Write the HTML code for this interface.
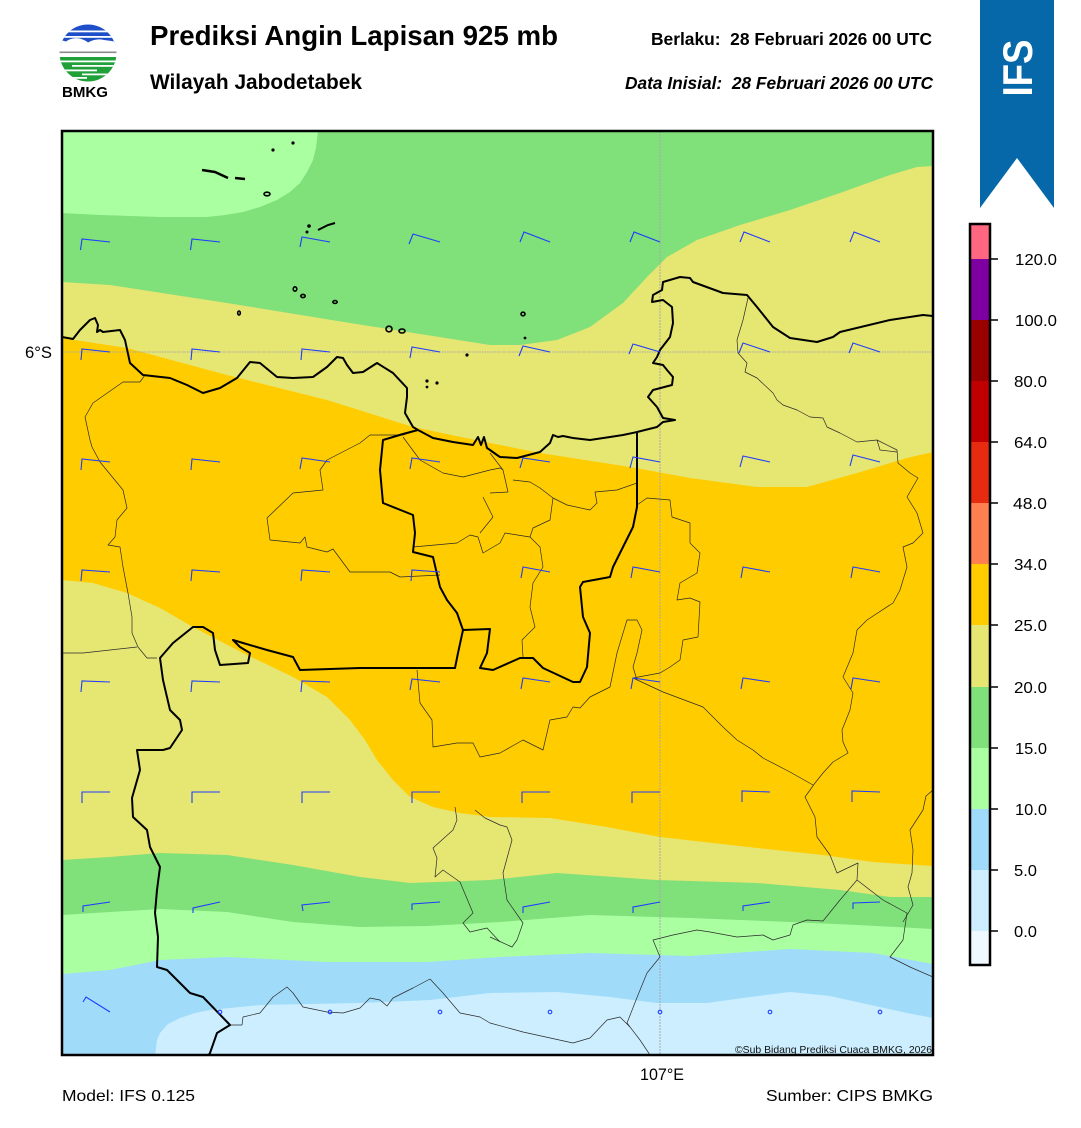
<!DOCTYPE html>
<html><head><meta charset="utf-8"><style>
html,body{margin:0;padding:0;background:#fff;}
svg{display:block;}
text{font-family:"Liberation Sans",Arial,sans-serif;}
</style></head><body>
<svg xmlns="http://www.w3.org/2000/svg" width="1081" height="1128" viewBox="0 0 1081 1128">
<defs>
<clipPath id="mapclip"><rect x="62" y="131" width="871" height="924"/></clipPath>
<clipPath id="logoclip"><circle cx="88" cy="53" r="28.5"/></clipPath>
</defs>
<rect width="1081" height="1128" fill="#fff"/>

<!-- Logo -->
<g clip-path="url(#logoclip)">
<rect x="55" y="22" width="70" height="24" fill="#1f4fc8"/>
<rect x="55" y="30.5" width="70" height="1.8" fill="#fff"/>
<rect x="55" y="36" width="70" height="1.8" fill="#fff"/>
<path d="M55,46 L55,41.5 Q61,39.5 66,41.5 Q72,37 80,38.5 Q85,40 88,42.5 Q96,38 104,40 Q112,41 125,43 L125,46 Z" fill="#fff"/>
<rect x="55" y="51.5" width="70" height="1.6" fill="#8a8a8a"/>
<rect x="55" y="57" width="70" height="26" fill="#1fa038"/>
<rect x="55" y="60.5" width="70" height="1.8" fill="#fff"/>
<rect x="72" y="65" width="55" height="1.8" fill="#fff"/>
<rect x="55" y="69.5" width="42" height="1.8" fill="#fff"/>
<rect x="82" y="73.5" width="45" height="1.8" fill="#fff"/>
<rect x="55" y="77" width="32" height="1.8" fill="#fff"/>
</g>
<text x="62" y="97" font-size="15" font-weight="bold" textLength="46" lengthAdjust="spacingAndGlyphs">BMKG</text>

<!-- Titles -->
<text x="150" y="45" font-size="27.8" font-weight="bold" textLength="408" lengthAdjust="spacingAndGlyphs">Prediksi Angin Lapisan 925 mb</text>
<text x="150" y="89" font-size="20.8" font-weight="bold" textLength="212" lengthAdjust="spacingAndGlyphs">Wilayah Jabodetabek</text>
<text x="651" y="45" font-size="17.4" font-weight="bold" textLength="281" lengthAdjust="spacingAndGlyphs" xml:space="preserve">Berlaku:  28 Februari 2026 00 UTC</text>
<text x="625" y="89" font-size="17.4" font-weight="bold" font-style="italic" textLength="308" lengthAdjust="spacingAndGlyphs" xml:space="preserve">Data Inisial:  28 Februari 2026 00 UTC</text>

<!-- IFS banner -->
<polygon points="980,0 1054,0 1054,208 1017,158 980,208" fill="#0668a8"/>
<text transform="translate(1032,68) rotate(-90)" text-anchor="middle" font-size="42" font-weight="bold" fill="#fff" textLength="57" lengthAdjust="spacingAndGlyphs">IFS</text>

<!-- MAP -->
<g clip-path="url(#mapclip)">
<rect x="62" y="131" width="871" height="924" fill="#e6e673"/>
<path d="M62,131 L933,131 L933,166 L917,167 L890,175 L840,193 L790,210 L740,225 L697,240 L667,257 L647,277 L623,303 L590,327 L557,340 L520,345 L490,345 L350,323 L227,303 L110,285 L62,282 Z" fill="#80e07a"/>
<path d="M62,131 L318,131 L316,148 L313,160 L307,172 L300,183 L290,192 L277,200 L260,207 L243,212 L225,215 L207,217 L160,217 L100,215 L62,213 Z" fill="#aaffa0"/>
<path d="M62,338 L127,348 L227,375 L327,400 L413,427 L490,443 L540,453 L630,467 L690,478 L757,487 L807,487 L857,473 L907,458 L933,452 L933,866 L873,862 L823,855 L757,848 L660,837 L607,827 L550,818 L490,817 L460,813 L433,807 L410,797 L393,780 L377,760 L365,740 L350,720 L327,697 L293,677 L243,653 L193,627 L160,608 L127,593 L93,583 L62,580 Z" fill="#ffcc00"/>
<path d="M62,860 L110,857 L160,853 L227,855 L293,865 L360,877 L410,883 L490,880 L557,873 L657,880 L757,883 L840,890 L890,897 L933,897 L933,1056 L62,1056 Z" fill="#80e07a"/>
<path d="M62,915 L110,912 L160,909 L227,912 L293,922 L360,927 L427,926 L500,922 L590,915 L690,918 L790,922 L857,925 L933,929 L933,1056 L62,1056 Z" fill="#aaffa0"/>
<path d="M62,974 L110,970 L160,960 L227,957 L327,962 L427,962 L500,957 L590,953 L690,956 L790,949 L873,953 L933,964 L933,1056 L62,1056 Z" fill="#a0dcfa"/>
<path d="M155,1056 L157,1040 L160,1033 L168,1024 L180,1018 L195,1013 L210,1010 L260,1005 L360,1003 L430,1000 L490,993 L557,992 L610,997 L657,1003 L707,1003 L750,997 L790,992 L830,996 L857,1002 L907,1013 L933,1018 L933,1056 Z" fill="#cceeff"/>

<line x1="62" y1="352" x2="933" y2="352" stroke="#a8a8a8" stroke-width="1" stroke-dasharray="1.5 1"/>
<line x1="660" y1="131" x2="660" y2="1055" stroke="#a8a8a8" stroke-width="1" stroke-dasharray="2 1"/>

<g fill="none" stroke="#2a2a2a" stroke-width="0.7" stroke-linejoin="round">
<path d="M145,375 L140,382 L123,382 L93,403 L85,417 L90,440 L92,447 L100,462 L123,490 L127,508 L117,520 L115,537 L108,545 L120,547 L123,567 L128,593 L132,617 L132,633 L138,647 L147,658 L157,658"/>
<path d="M62,653 L83,653 L110,650 L137,647"/>
<path d="M418,430 L403,435 L370,435 L360,443 L327,460 L320,470 L323,490 L293,493 L267,518 L270,540 L300,543 L305,537 L307,547 L327,552 L333,549 L350,572 L390,572 L400,577 L440,575"/>
<path d="M413,547 L457,543 L470,535 L478,537 L483,553 L500,543 L505,533 L530,537"/>
<path d="M403,437 L420,460 L443,473 L463,477 L490,470 L500,468 L503,470"/>
<path d="M490,453 L503,470 L508,492 L490,493"/>
<path d="M483,497 L493,517 L480,533"/>
<path d="M513,480 L530,482 L540,488 L553,498 L550,520 L533,528 L530,537 L540,547 L543,567 L533,583 L530,607 L535,627 L522,640 L523,657"/>
<path d="M553,498 L567,505 L590,510 L597,503 L595,492 L617,490 L637,483"/>
<path d="M637,505 L647,498 L670,500 L672,517 L690,523 L690,543 L700,553 L697,573 L680,583 L677,600 L690,598 L700,602 L698,637 L683,640 L680,660 L670,667 L660,673 L633,678"/>
<path d="M633,678 L663,692 L703,707 L723,727 L737,740 L753,750 L763,758 L790,772 L813,785"/>
<path d="M748,298 L743,320 L737,340 L738,353 L747,363 L745,372 L757,378 L773,393 L777,400 L783,405 L797,410 L810,417 L823,418 L827,427 L840,433 L857,442 L877,440 L880,450 L897,452"/>
<path d="M877,440 L897,450 L898,463 L910,473 L918,478 L907,497 L917,513 L923,533 L913,543 L903,547 L907,567 L900,590 L893,603 L867,620 L857,630 L853,653 L843,677 L853,693 L850,710 L842,730 L843,742 L848,753 L833,762 L823,773 L815,783 L805,797 L815,817 L817,837 L830,855 L837,873 L858,863 L857,880 L840,900 L823,921 L807,920 L793,925 L790,935 L773,940 L763,935 L737,937 L710,932 L697,930 L673,935 L653,940 L660,957 L647,973 L638,995 L627,1023 L640,1040 L650,1055"/>
<path d="M857,880 L883,900 L907,913 L903,940 L890,957 L910,967 L933,977"/>
<path d="M933,790 L926,796 L923,810 L910,830 L913,850 L912,873 L908,887 L913,905 L903,922"/>
<path d="M230,1025 L242,1025 L243,1017 L260,1013 L273,997 L287,987 L293,993 L303,1007 L327,1012 L343,1013 L360,1008 L370,998 L380,1000 L387,1006 L393,998 L413,988 L430,979 L443,993 L460,1013 L480,1017 L490,1023 L523,1032 L573,1043 L590,1038 L607,1020 L620,1017 L630,1027"/>
<path d="M417,670 L420,703 L432,720 L433,747 L457,743 L473,743 L480,757 L500,753 L523,740 L543,750 L550,720 L567,717 L573,707 L580,708 L590,697 L610,687 L617,653 L627,620 L637,620 L642,630 L637,653 L633,667 L637,680"/>
<path d="M475,810 L485,818 L500,825 L507,827 L512,840 L503,873 L507,900 L523,923 L517,940 L512,947 L490,937"/>
<path d="M455,807 L457,820 L453,830 L433,848 L437,858 L435,877 L443,870 L460,882 L473,913 L463,923 L470,932 L487,928 L500,942"/>
</g>

<g fill="none" stroke="#000" stroke-width="2" stroke-linejoin="round">
<path d="M62,337 L73,339 L80,330 L90,320 L95,318 L98,325 L97,332 L100,330 L103,332 L120,330 L125,340 L130,363 L143,375 L170,378 L187,385 L203,393 L220,388 L237,378 L250,362 L260,363 L277,377 L293,378 L313,377 L327,367 L337,357 L343,358 L347,365 L353,373 L363,372 L377,363 L393,373 L407,388 L407,397 L405,413 L413,427 L418,430 L433,438 L453,442 L473,445 L478,437 L481,445 L484,437 L487,448 L490,450 L497,455 L500,457 L517,458 L540,452 L550,443 L553,435 L558,437 L563,436 L573,438 L590,440 L610,437 L623,435 L637,432 L657,427 L663,422 L675,420 L663,418 L657,407 L648,397 L653,390 L672,385 L673,377 L667,370 L663,365 L653,363 L657,357 L660,350 L670,337 L673,323 L672,307 L663,300 L652,302 L653,295 L662,290 L663,282 L680,277 L690,278 L693,282 L723,293 L747,295 L757,307 L773,327 L790,338 L817,342 L833,337 L840,332 L890,320 L923,315 L933,316"/>
<path d="M418,430 L403,434 L393,437 L383,440 L382,450 L380,470 L383,503 L413,515 L415,533 L413,552 L433,557 L440,587 L447,600 L457,613 L463,630 L458,653 L455,668 L393,668 L360,668 L300,670 L293,657 L267,650 L243,643 L233,640 L240,647 L250,653 L248,663 L220,665 L215,650 L213,633 L203,627 L193,627 L173,643 L160,658 L163,680 L170,710 L180,720 L182,730 L170,748 L163,750 L137,750 L140,770 L132,798 L133,817 L147,830 L150,847 L160,867 L157,890 L155,913 L158,937 L157,967 L167,970 L190,993 L203,997 L230,1025 L217,1033 L210,1053 L208,1056"/>
<path d="M463,630 L490,629 L487,653 L480,668 L493,670 L520,658 L533,658 L543,668 L573,682 L580,682 L587,667 L590,633 L583,617 L580,587 L583,582 L610,577 L613,567 L623,547 L633,527 L637,507 L637,433"/>
</g>
<g fill="none" stroke="#000" stroke-width="1.6">
<path d="M202,170 L215,172 L228,178" stroke-width="2.5"/>
<path d="M235,178 L245,179" stroke-width="2.5"/>
<ellipse cx="267" cy="194" rx="3" ry="1.8"/>
<path d="M318,230 L328,225 L335,223" stroke-width="2"/>
<ellipse cx="295" cy="289" rx="1.8" ry="2.2"/>
<ellipse cx="303" cy="296" rx="2.2" ry="1.6"/>
<ellipse cx="335" cy="302" rx="2.2" ry="1.4"/>
<ellipse cx="239" cy="313" rx="1.3" ry="2"/>
<ellipse cx="389" cy="329" rx="3" ry="2.8"/>
<ellipse cx="402" cy="331" rx="3" ry="2"/>
<ellipse cx="523" cy="314" rx="2" ry="1.8"/>
</g>
<g fill="#000">
<circle cx="273" cy="150" r="1.6"/><circle cx="293" cy="143" r="1.6"/>
<circle cx="309" cy="226" r="1.8"/><circle cx="307" cy="232" r="1.5"/>
<circle cx="467" cy="355" r="1.6"/><circle cx="427" cy="381" r="1.6"/><circle cx="437" cy="383" r="1.6"/><circle cx="427" cy="387" r="1.4"/>
<circle cx="525" cy="338" r="1.4"/>
</g>

<g fill="none" stroke="#1f3cff" stroke-width="1.1" stroke-linejoin="miter">
<path d="M80.5,250 L82,239 L110,242 M190.5,250 L192,239 L220,242 M300,247 L302,237 L330,242 M409,244 L413,234 L440,242 M520,242 L524,232 L550,242 M630,242 L634,232 L660,242 M740,242 L744,232 L770,242 M850,242 L854,232 L880,242"/>
<path d="M81,360 L82,349 L110,352 M191,360 L192,349 L220,352 M301,360 L302,349 L330,352 M410,358 L412,347 L440,352 M519,356 L523,346 L550,352 M629,354 L633,344 L660,352 M739,353 L743,343 L770,352 M849,353 L853,343 L880,352"/>
<path d="M81,470 L82,459 L110,462 M191,470 L192,459 L220,462 M300,469 L302,458 L330,462 M410,469 L412,458 L440,462 M520,468 L523,458 L550,462 M630,468 L633,457 L660,462 M740,467 L743,456 L770,462 M850,466 L853,455 L880,462"/>
<path d="M81,581 L82,570 L110,572 M191,581 L192,570 L220,572 M301,581 L302,570 L330,572 M411,581 L412,570 L440,572 M521,578 L523,567 L550,572 M631,578 L633,567 L660,572 M741,578 L743,567 L770,572 M851,578 L853,567 L880,572"/>
<path d="M81,692 L82,681 L110,682 M191,692 L192,681 L220,682 M301,692 L302,681 L330,682 M410,690 L412,679 L440,682 M521,689 L523,678 L550,682 M631,689 L633,678 L660,682 M741,689 L743,678 L770,682 M851,689 L853,678 L880,682"/>
<path d="M82,803 L82,792 L110,792 M192,803 L192,792 L220,792 M302,803 L302,792 L330,792 M412,803 L412,792 L440,792 M522,803 L522,792 L550,792 M632,803 L632,792 L660,792 M742,802 L742,791 L770,792 M852,802 L852,791 L880,792"/>
<path d="M83,912 L83,906 L110,902 M193,913 L193,908 L220,902 M303,911 L302,905 L330,902 M412,910 L412,904 L440,902 M523,913 L523,907 L550,902 M633,913 L633,907 L660,902 M743,911 L743,906 L770,902 M853,909 L853,903 L880,902"/>
<path d="M83,1002 L86,997 L110,1012"/>
<circle cx="220" cy="1012" r="1.8"/><circle cx="330" cy="1012" r="1.8"/><circle cx="440" cy="1012" r="1.8"/><circle cx="550" cy="1012" r="1.8"/><circle cx="660" cy="1012" r="1.8"/><circle cx="770" cy="1012" r="1.8"/><circle cx="880" cy="1012" r="1.8"/>
</g>
<text x="735" y="1053" font-size="10.4" fill="#111" textLength="197" lengthAdjust="spacingAndGlyphs">©Sub Bidang Prediksi Cuaca BMKG, 2026</text>
</g>
<rect x="62" y="131" width="871" height="924" fill="none" stroke="#000" stroke-width="2.5"/>

<text x="25" y="358" font-size="16.5" textLength="27" lengthAdjust="spacingAndGlyphs">6°S</text>
<text x="640" y="1080" font-size="16.5" textLength="44" lengthAdjust="spacingAndGlyphs">107°E</text>
<text x="62" y="1101" font-size="16" textLength="133" lengthAdjust="spacingAndGlyphs">Model: IFS 0.125</text>
<text x="766" y="1101" font-size="16" textLength="167" lengthAdjust="spacingAndGlyphs">Sumber: CIPS BMKG</text>

<g>
<rect x="970" y="224" width="20" height="35" fill="#ff6680"/>
<rect x="970" y="259" width="20" height="61" fill="#7f00a0"/>
<rect x="970" y="320" width="20" height="61" fill="#990000"/>
<rect x="970" y="381" width="20" height="61" fill="#c00000"/>
<rect x="970" y="442" width="20" height="61" fill="#e62b10"/>
<rect x="970" y="503" width="20" height="61" fill="#ff7f50"/>
<rect x="970" y="564" width="20" height="61" fill="#ffcc00"/>
<rect x="970" y="625" width="20" height="62" fill="#e6e673"/>
<rect x="970" y="687" width="20" height="61" fill="#80e07a"/>
<rect x="970" y="748" width="20" height="61" fill="#aaffa0"/>
<rect x="970" y="809" width="20" height="61" fill="#a0dcfa"/>
<rect x="970" y="870" width="20" height="61" fill="#cceeff"/>
<rect x="970" y="931" width="20" height="34" fill="#f0f8ff"/>
<rect x="970" y="224" width="20" height="741" fill="none" stroke="#000" stroke-width="2.5"/>
<g stroke="#000" stroke-width="1.5">
<line x1="990" y1="259" x2="998" y2="259"/><line x1="990" y1="320" x2="998" y2="320"/><line x1="990" y1="381" x2="998" y2="381"/><line x1="990" y1="442" x2="998" y2="442"/><line x1="990" y1="503" x2="998" y2="503"/><line x1="990" y1="564" x2="998" y2="564"/><line x1="990" y1="625" x2="998" y2="625"/><line x1="990" y1="687" x2="998" y2="687"/><line x1="990" y1="748" x2="998" y2="748"/><line x1="990" y1="809" x2="998" y2="809"/><line x1="990" y1="870" x2="998" y2="870"/><line x1="990" y1="931" x2="998" y2="931"/>
</g>
<g font-size="16">
<text x="1015" y="265" textLength="42" lengthAdjust="spacingAndGlyphs">120.0</text>
<text x="1015" y="326" textLength="42" lengthAdjust="spacingAndGlyphs">100.0</text>
<text x="1014" y="387" textLength="33" lengthAdjust="spacingAndGlyphs">80.0</text>
<text x="1014" y="448" textLength="33" lengthAdjust="spacingAndGlyphs">64.0</text>
<text x="1013" y="509" textLength="34" lengthAdjust="spacingAndGlyphs">48.0</text>
<text x="1014" y="570" textLength="33" lengthAdjust="spacingAndGlyphs">34.0</text>
<text x="1014" y="631" textLength="33" lengthAdjust="spacingAndGlyphs">25.0</text>
<text x="1014" y="693" textLength="33" lengthAdjust="spacingAndGlyphs">20.0</text>
<text x="1015" y="754" textLength="32" lengthAdjust="spacingAndGlyphs">15.0</text>
<text x="1015" y="815" textLength="32" lengthAdjust="spacingAndGlyphs">10.0</text>
<text x="1014" y="876" textLength="23" lengthAdjust="spacingAndGlyphs">5.0</text>
<text x="1014" y="937" textLength="23" lengthAdjust="spacingAndGlyphs">0.0</text>
</g>
</g>
</svg>
</body></html>
